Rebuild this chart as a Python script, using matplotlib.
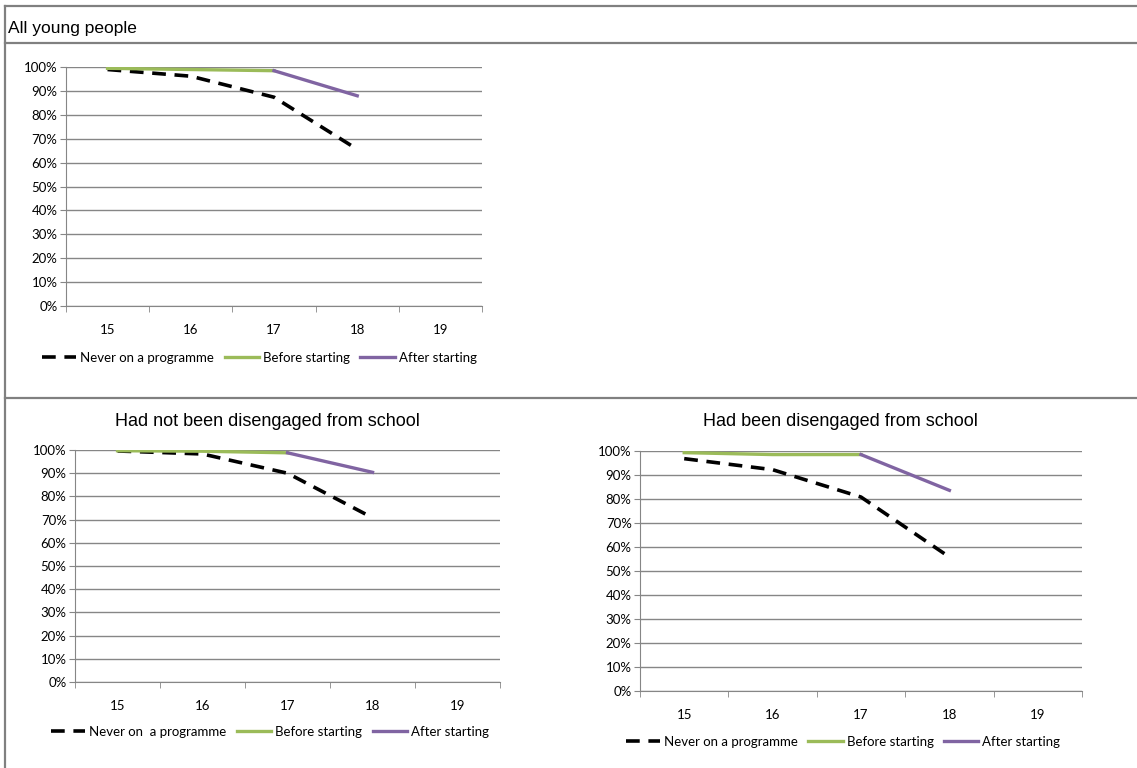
import matplotlib.pyplot as plt
from matplotlib.lines import Line2D
from matplotlib.ticker import PercentFormatter

# Ages on the x axis
ages = [15, 16, 17, 18, 19]

# All young people
all_never = [99.0, 96.2, 87.4, 65.6]
all_before = [99.5, 99.0, 98.5]
all_after = [98.5, 88.0]

# Had not been disengaged from school
not_never = [99.6, 98.3, 90.0, 70.8]
not_before = [99.7, 99.5, 98.8]
not_after = [98.8, 90.4]

# Had been disengaged from school
dis_never = [96.8, 92.2, 80.8, 55.8]
dis_before = [99.3, 98.5, 98.5]
dis_after = [98.5, 83.6]

labels = ["Never on a programme", "Before starting", "After starting"]

GREEN = "#9BBB59"
PURPLE = "#8064A2"
GRID = "#868686"

plt.rcParams['font.family'] = ['Lato', 'DejaVu Sans']

fig = plt.figure(figsize=(11.37, 7.68), dpi=100)


def draw_panel(rect, never, before, after, never_label, leg_pos):
    ax = fig.add_axes(rect)
    ax.plot(ages[:len(never)], never, color="black", lw=2.6,
            dashes=(3.8, 2.4), label=never_label, zorder=3)
    ax.plot(ages[:len(before)], before, color=GREEN, lw=2.4,
            label=labels[1], zorder=4)
    ax.plot(ages[2:2 + len(after)], after, color=PURPLE, lw=2.4,
            label=labels[2], zorder=4)
    ax.set_xlim(14.5, 19.5)
    ax.set_ylim(0, 100)
    ax.set_yticks(range(0, 101, 10))
    ax.yaxis.set_major_formatter(PercentFormatter(decimals=0))
    ax.set_xticks(ages)
    ax.set_xticks([a + 0.5 for a in [14] + ages], minor=True)
    ax.tick_params(axis='x', which='major', length=0, pad=13, labelsize=9.5)
    ax.tick_params(axis='x', which='minor', length=4, color=GRID, direction='out')
    ax.tick_params(axis='y', length=4, color=GRID, labelsize=9.5, pad=2)
    ax.grid(axis='y', color=GRID, lw=1)
    ax.set_axisbelow(True)
    for s in ['top', 'right']:
        ax.spines[s].set_visible(False)
    for s in ['left', 'bottom']:
        ax.spines[s].set_color(GRID)
    fig.legend(handles=ax.get_lines(), loc='center', bbox_to_anchor=leg_pos,
               ncol=3, frameon=False, fontsize=9.5, handlelength=2.6,
               columnspacing=0.8, handletextpad=0.3)
    return ax


draw_panel([0.058, 0.6016, 0.366, 0.311], all_never, all_before, all_after,
           labels[0], (0.228, 0.534))
draw_panel([0.066, 0.112, 0.3738, 0.302], not_never, not_before, not_after,
           "Never on  a programme", (0.2375, 0.047))
draw_panel([0.5629, 0.1003, 0.3887, 0.3125], dis_never, dis_before, dis_after,
           labels[0], (0.7414, 0.034))

# Titles
fig.text(0.007, 1 - 28 / 768, "All young people", family="Liberation Sans",
         fontsize=12.5, va='center', ha='left')
fig.text(267 / 1137, 1 - 422 / 768, "Had not been disengaged from school",
         family="Liberation Sans", fontsize=13, va='center', ha='center')
fig.text(840 / 1137, 1 - 421 / 768, "Had been disengaged from school",
         family="Liberation Sans", fontsize=13, va='center', ha='center')

# Frame lines
border = dict(color="#808080", lw=1.6, transform=fig.transFigure)
fig.add_artist(Line2D([0.0044, 1], [1 - 6 / 768] * 2, **border))
fig.add_artist(Line2D([0.0044, 1], [1 - 43 / 768] * 2, **border))
fig.add_artist(Line2D([0.0044, 1], [1 - 398 / 768] * 2, **border))
fig.add_artist(Line2D([0.0044, 0.0044], [0, 1 - 6 / 768], **border))

plt.savefig("out.png", dpi=100)
